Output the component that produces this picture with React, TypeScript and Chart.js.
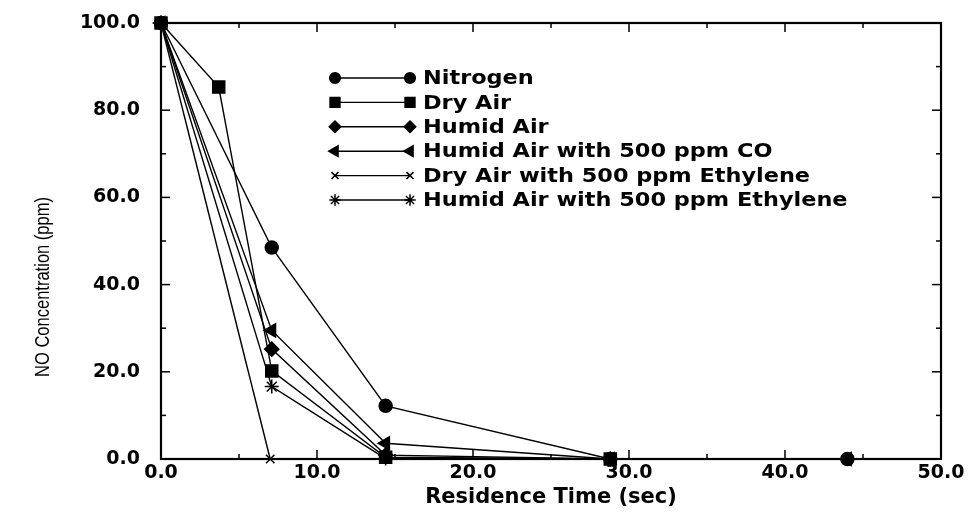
import React, { useEffect, useRef } from 'react';
import { Chart, registerables } from 'chart.js';
import { drawPoint } from 'chart.js/helpers';

Chart.register(...registerables);

// Residence time (sec) and NO concentration (ppm) for each gas mixture
const nitrogenTime = [0, 7.1, 14.4, 28.8, 44.0];
const nitrogenNO = [100, 48.5, 12.2, 0, 0];

const dryAirTime = [0, 3.7, 7.1, 14.4, 28.8];
const dryAirNO = [100, 85.3, 20.2, 0.4, 0];

const humidAirTime = [0, 7.1, 14.4, 28.8];
const humidAirNO = [100, 25.2, 0.9, 0];

const humidCOTime = [0, 7.1, 14.4, 28.8, 44.0];
const humidCONO = [100, 29.5, 3.6, 0, 0];

const dryEthTime = [0, 7.0];
const dryEthNO = [100, 0];

const humidEthTime = [0, 7.1, 14.4];
const humidEthNO = [100, 16.6, 0.1];

const seriesLabels = [
  'Nitrogen',
  'Dry Air',
  'Humid Air',
  'Humid Air with 500 ppm CO',
  'Dry Air with 500 ppm Ethylene',
  'Humid Air with 500 ppm Ethylene',
];

// Axis ranges and tick spacing
const xRange = [0, 50];
const yRange = [0, 100];
const xMajorStep = 10;
const xMinorStep = 5;
const yMajorStep = 20;
const yMinorStep = 10;

const xTitle = 'Residence Time (sec)';
const yTitle = 'NO Concentration (ppm)';

// Marker look per series
const markers = [
  { pointStyle: 'circle', pointRadius: 6.5, pointRotation: 0 },
  { pointStyle: 'rect', pointRadius: 8.5, pointRotation: 0 },
  { pointStyle: 'rectRot', pointRadius: 7, pointRotation: 0 },
  { pointStyle: 'triangle', pointRadius: 7.5, pointRotation: -90 },
  { pointStyle: 'crossRot', pointRadius: 6, pointRotation: 0 },
  { pointStyle: 'star', pointRadius: 7, pointRotation: 0 },
];

const tickFont = { family: '"DejaVu Sans", sans-serif', weight: 'bold' as const, size: 19 };

const toPoints = (xs: number[], ys: number[]) => xs.map((x, i) => ({ x, y: ys[i] }));

// Box frame with inward major/minor tick marks on all four sides
const framePlugin = {
  id: 'boxFrame',
  afterDraw(chart: any) {
    const { ctx, chartArea, scales } = chart;
    const { left, right, top, bottom } = chartArea;
    const line = (a: number, b: number, c: number, d: number) => {
      ctx.beginPath();
      ctx.moveTo(a, b);
      ctx.lineTo(c, d);
      ctx.stroke();
    };
    ctx.save();
    ctx.strokeStyle = '#000';
    ctx.lineWidth = 1.5;
    for (let v = xRange[0]; v <= xRange[1]; v += xMinorStep) {
      const px = scales.x.getPixelForValue(v);
      const len = v % xMajorStep === 0 ? 9 : 5;
      line(px, bottom, px, bottom - len);
      line(px, top, px, top + len);
    }
    for (let v = yRange[0]; v <= yRange[1]; v += yMinorStep) {
      const py = scales.y.getPixelForValue(v);
      const len = v % yMajorStep === 0 ? 9 : 5;
      line(left, py, left + len, py);
      line(right, py, right - len, py);
    }
    ctx.lineWidth = 2.2;
    ctx.strokeRect(left, top, right - left, bottom - top);
    ctx.restore();
  },
};

// Vertical axis title in a narrow face
const yTitlePlugin = {
  id: 'yTitle',
  afterDraw(chart: any) {
    const { ctx } = chart;
    ctx.save();
    ctx.font = '20px "Liberation Sans Narrow", "Liberation Sans", sans-serif';
    const w = ctx.measureText(yTitle).width;
    const target = 180;
    const sx = w > target ? target / w : 1;
    ctx.translate(43, 287);
    ctx.rotate(-Math.PI / 2);
    ctx.scale(sx, 1);
    ctx.fillStyle = '#000';
    ctx.textAlign = 'center';
    ctx.textBaseline = 'middle';
    ctx.fillText(yTitle, 0, 0);
    ctx.restore();
  },
};

// Legend: a short line with a marker at each end, then the series name
const lineLegendPlugin = {
  id: 'lineLegend',
  afterDraw(chart: any) {
    const { ctx, chartArea } = chart;
    const x0 = chartArea.left + 174;
    const x1 = chartArea.left + 249;
    const tx = chartArea.left + 262;
    const y0 = chartArea.top + 55;
    const dy = 24.4;
    const markerScale = 0.82;
    const textStretch = 1.12;
    ctx.save();
    chart.data.datasets.forEach((ds: any, i: number) => {
      const y = y0 + i * dy;
      ctx.strokeStyle = '#000';
      ctx.lineWidth = 1.4;
      ctx.beginPath();
      ctx.moveTo(x0, y);
      ctx.lineTo(x1, y);
      ctx.stroke();
      const opts = {
        pointStyle: ds.pointStyle,
        radius: ds.pointRadius * markerScale,
        rotation: ds.pointRotation || 0,
        borderWidth: ds.pointBorderWidth,
      };
      ctx.fillStyle = '#000';
      ctx.strokeStyle = '#000';
      ctx.lineWidth = ds.pointBorderWidth;
      drawPoint(ctx, opts as any, x0, y);
      drawPoint(ctx, opts as any, x1, y);
      ctx.save();
      ctx.translate(tx, y + 1);
      ctx.scale(textStretch, 1);
      ctx.font = 'bold 20px "DejaVu Sans", sans-serif';
      ctx.textAlign = 'left';
      ctx.textBaseline = 'middle';
      ctx.fillStyle = '#000';
      ctx.fillText(ds.label, 0, 0);
      ctx.restore();
    });
    ctx.restore();
  },
};

export default function App() {
  const canvasRef = useRef<HTMLCanvasElement | null>(null);

  useEffect(() => {
    if (!canvasRef.current) return;
    const series = [
      toPoints(nitrogenTime, nitrogenNO),
      toPoints(dryAirTime, dryAirNO),
      toPoints(humidAirTime, humidAirNO),
      toPoints(humidCOTime, humidCONO),
      toPoints(dryEthTime, dryEthNO),
      toPoints(humidEthTime, humidEthNO),
    ];
    const chart = new Chart(canvasRef.current, {
      type: 'scatter',
      data: {
        datasets: series.map((data, i) => ({
          label: seriesLabels[i],
          data,
          showLine: true,
          borderColor: '#000',
          borderWidth: 1.4,
          backgroundColor: '#000',
          pointBackgroundColor: '#000',
          pointBorderColor: '#000',
          pointBorderWidth: 1.5,
          pointStyle: markers[i].pointStyle as any,
          pointRadius: markers[i].pointRadius,
          pointRotation: markers[i].pointRotation,
          clip: false as any,
        })),
      },
      options: {
        animation: false,
        responsive: true,
        maintainAspectRatio: false,
        layout: { autoPadding: false, padding: { top: 23, right: 32, bottom: 0, left: 0 } },
        plugins: {
          legend: { display: false },
          tooltip: { enabled: false },
        },
        scales: {
          x: {
            type: 'linear',
            min: xRange[0],
            max: xRange[1],
            grid: { display: false, drawTicks: false },
            border: { display: false },
            ticks: {
              stepSize: xMajorStep,
              color: '#000',
              font: tickFont,
              padding: 3,
              maxRotation: 0,
              callback: (v: any) => Number(v).toFixed(1),
            },
            title: {
              display: true,
              text: xTitle,
              color: '#000',
              font: { family: '"DejaVu Sans", sans-serif', weight: 'bold', size: 21 },
              padding: { top: 0, bottom: 4 },
            },
            afterFit: (scale: any) => {
              scale.height = 55;
            },
          },
          y: {
            type: 'linear',
            min: yRange[0],
            max: yRange[1],
            grid: { display: false, drawTicks: false },
            border: { display: false },
            ticks: {
              stepSize: yMajorStep,
              color: '#000',
              font: tickFont,
              padding: 21,
              callback: (v: any) => Number(v).toFixed(1),
            },
            afterFit: (scale: any) => {
              scale.width = 161;
              scale.paddingTop = 0;
              scale.paddingBottom = 0;
            },
          },
        },
      },
      plugins: [framePlugin, yTitlePlugin, lineLegendPlugin],
    });
    return () => chart.destroy();
  }, []);

  return (
    <div style={{ position: 'absolute', left: 0, top: 0, width: 973, height: 514, background: '#fff' }}>
      <canvas ref={canvasRef} />
    </div>
  );
}
